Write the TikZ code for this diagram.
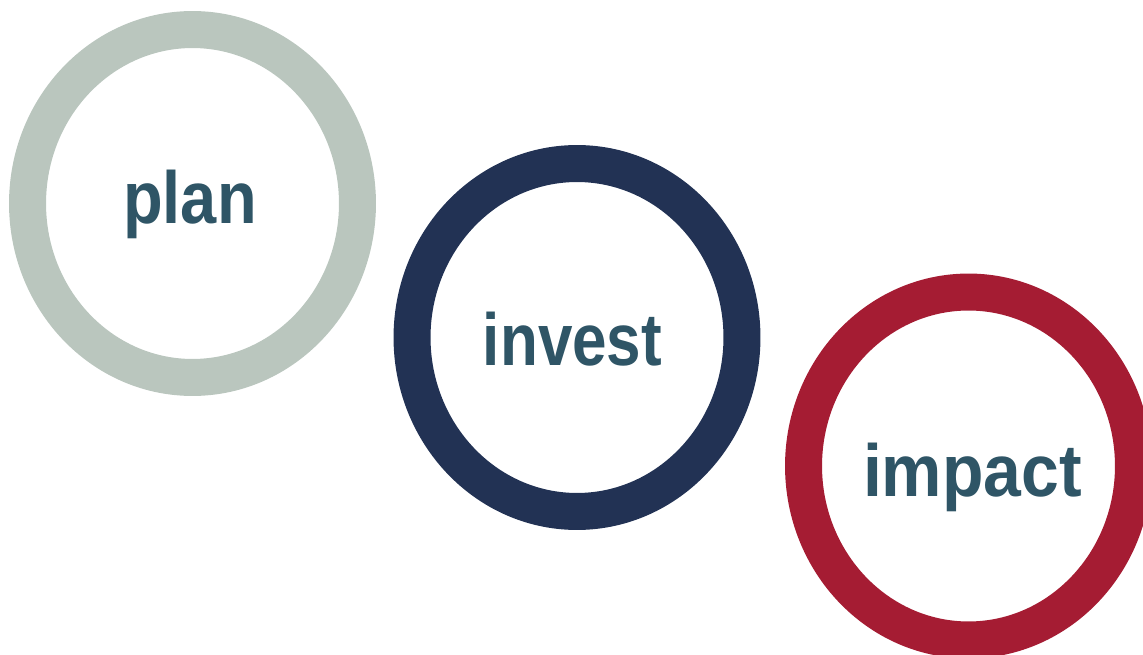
\documentclass[tikz,border=0pt]{standalone}
\usepackage{fontspec}
\setmainfont{Liberation Sans}
\usepackage{tikz}
\usetikzlibrary{positioning}
\definecolor{plangrey}{HTML}{BAC6BE}
\definecolor{investblue}{HTML}{223254}
\definecolor{impactred}{HTML}{A51C33}
\definecolor{wordteal}{HTML}{2F5566}
\begin{document}
\begin{tikzpicture}[x=0.02cm,y=-0.02cm]
              \tikzstyle{ring} = [line width=0.74cm];
              \tikzstyle{word} = [anchor=base, inner sep=0pt, text=wordteal,
                font=\fontsize{42pt}{48pt}\selectfont\bfseries];
              \useasboundingbox (0,0) rectangle (1143,655);
              \clip (0,0) rectangle (1143,655);
              % ring centres and text baselines
              \foreach \n/\cx/\cy/\tx/\ty in {plan/192.5/203.5/190/224,
                invest/577/337.5/572.5/365,impact/968.5/466/972.5/496}{
                \coordinate (c-\n) at (\cx,\cy);
                \coordinate (t-\n) at (\tx,\ty);
              }
              \foreach \n/\col in {plan/plangrey,invest/investblue,impact/impactred}{
                \draw[ring,\col] (c-\n) ellipse [x radius=3.3cm, y radius=3.48cm];
              }
              \node[word] (planword) at (t-plan) {\scalebox{0.88}[1]{plan}};
              \node[word] (investword) at (t-invest) {\scalebox{0.84}[1]{invest}};
              \node[word] (impactword) at (t-impact) {\scalebox{0.92}[1]{impact}};
            \end{tikzpicture}
\end{document}
